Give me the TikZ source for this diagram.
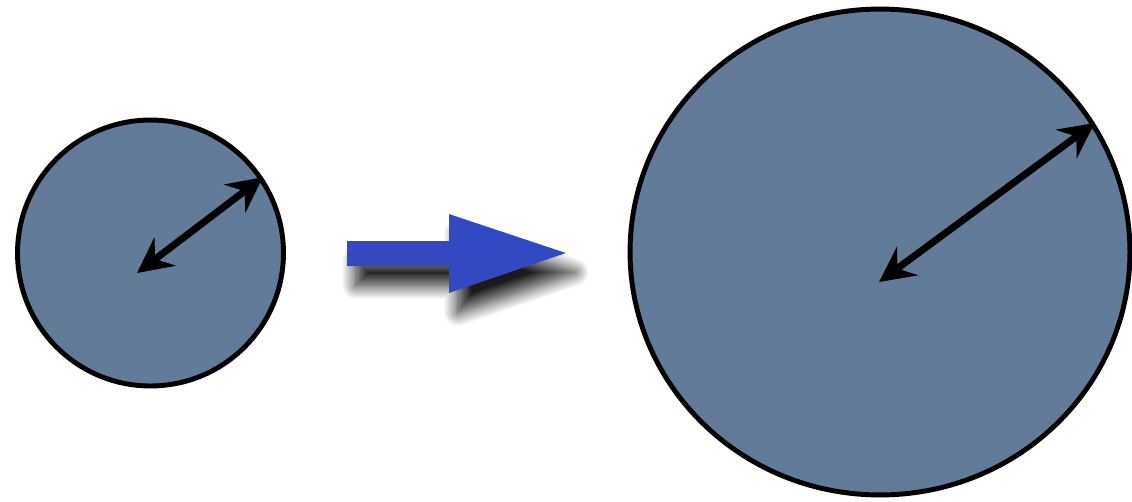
\documentclass[tikz,border=0pt]{standalone}
\usepackage{xcolor}
\definecolor{DiscFill}{HTML}{627B99}
\definecolor{GrowBlue}{HTML}{3249C1}
\usepackage{tikz}
\usetikzlibrary{shapes.geometric, arrows.meta, shadows.blur}

\begin{document}
\begin{tikzpicture}[
  x=0.02cm, y=-0.02cm,
  disc/.style={draw=black, line width=2.8pt, fill=DiscFill, inner sep=0pt},
  radius arrow/.style={line width=4pt,
               {Stealth[length=20pt, width=20pt, inset=7pt]}-{Stealth[length=20pt, width=20pt, inset=7pt]}},
]
\useasboundingbox (0,0) rectangle (1132,501);
% the two discs, small one on the left, grown one on the right
\node[disc, circle, minimum size=5.32cm] (small) at (150.5,253) {};
\node[disc, ellipse, minimum width=10.0cm, minimum height=9.72cm] (big) at (880,252) {};
% free ends of the radius arrows sit a bit below the centres
\coordinate (smallfoot) at (137,273);
\coordinate (bigfoot) at (879,282);
\draw[radius arrow] (smallfoot) -- (small.34);
\draw[radius arrow] (bigfoot) -- (big.31.5);
% block arrow between them, with its drop shadow
\path[fill=GrowBlue, blur shadow={shadow xshift=5pt, shadow yshift=-11pt,
      shadow blur radius=8pt, shadow blur steps=20, shadow opacity=90}]
  (347,241) -- (449,241) -- (449,214) -- (566,253)
  -- (449,293) -- (449,266) -- (347,266) -- cycle;
\end{tikzpicture}
\end{document}
